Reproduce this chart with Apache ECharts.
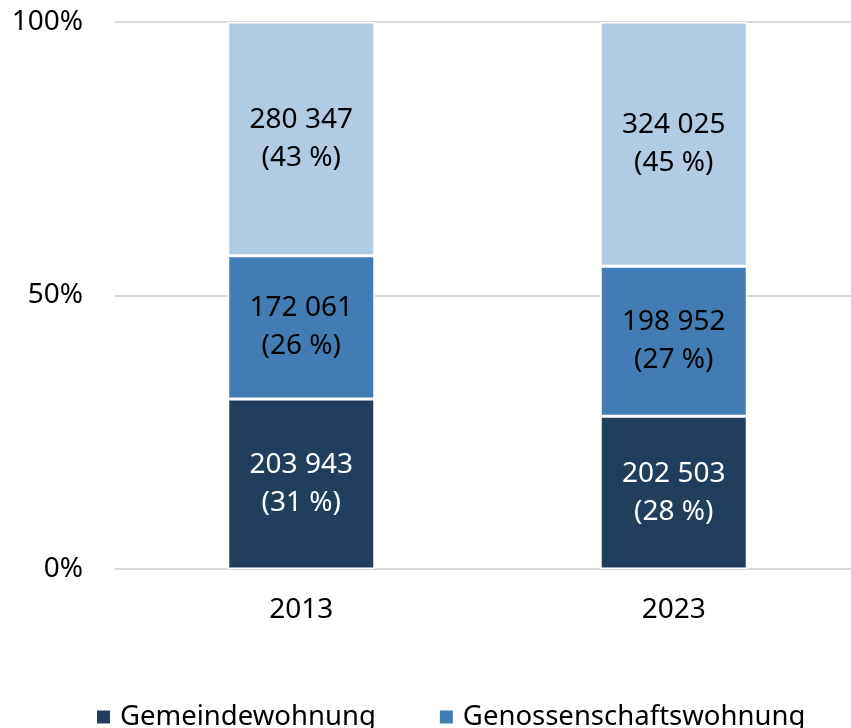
<!DOCTYPE html>
<html>
<head>
<meta charset="utf-8">
<script src="https://cdn.jsdelivr.net/npm/echarts@6/dist/echarts.min.js"></script>
<style>
  html, body { margin: 0; padding: 0; background: #fff; }
  #main { width: 851px; height: 728px; }
</style>
</head>
<body>
<div id="main"></div>
<script>
const years = ['2013', '2023']
const gemeinde = [203943, 202503]
const genossenschaft = [172061, 198952]
const privat = [280347, 324025]
const yTicks = [0, 50, 100]

const totals = years.map((y, i) => gemeinde[i] + genossenschaft[i] + privat[i])
const share = arr => arr.map((v, i) => v / totals[i] * 100)
const fmtNum = n => String(n).replace(/\B(?=(\d{3})+(?!\d))/g, ' ')

const font = 'Noto Sans'

function makeSeries(name, counts, color, textColor) {
  return {
    name: name,
    type: 'bar',
    stack: 'total',
    barWidth: 147,
    data: share(counts),
    itemStyle: { color: color, borderColor: '#fff', borderWidth: 1.5 },
    label: {
      show: true,
      position: 'inside',
      color: textColor,
      fontFamily: font,
      fontSize: 28,
      lineHeight: 38,
      formatter: p => fmtNum(counts[p.dataIndex]) + '\n(' + Math.round(p.value) + ' %)'
    }
  }
}

const chart = echarts.init(document.getElementById('main'))
const option = {
  animation: false,
  backgroundColor: '#fff',
  textStyle: { fontFamily: font },
  grid: { left: 115, top: 22, width: 745, height: 547, outerBoundsMode: 'none', containLabel: false },
  legend: {
    data: ['Gemeindewohnung', 'Genossenschaftswohnung'],
    left: 90,
    top: 698,
    icon: 'rect',
    itemWidth: 15,
    itemHeight: 15,
    itemGap: 62,
    textStyle: { fontFamily: font, fontSize: 27.5, color: '#000', padding: [0, 0, 0, 4] }
  },
  xAxis: {
    type: 'category',
    data: years,
    axisLine: { lineStyle: { color: '#d9d9d9', width: 2 } },
    axisTick: { show: false },
    axisLabel: { color: '#000', fontSize: 28, fontFamily: font, margin: 27 }
  },
  yAxis: {
    type: 'value',
    min: yTicks[0],
    max: yTicks[yTicks.length - 1],
    interval: yTicks[1] - yTicks[0],
    axisLine: { show: false },
    axisTick: { show: false },
    splitLine: { lineStyle: { color: '#d9d9d9', width: 2 } },
    axisLabel: { color: '#000', fontSize: 28, fontFamily: font, margin: 32, formatter: '{value}%' }
  },
  series: [
    makeSeries('Gemeindewohnung', gemeinde, '#213f5c', '#fff'),
    makeSeries('Genossenschaftswohnung', genossenschaft, '#417cb4', '#000'),
    makeSeries('Private Mietwohnung', privat, '#b1cbe3', '#000')
  ]
}
chart.setOption(option)
</script>
</body>
</html>
